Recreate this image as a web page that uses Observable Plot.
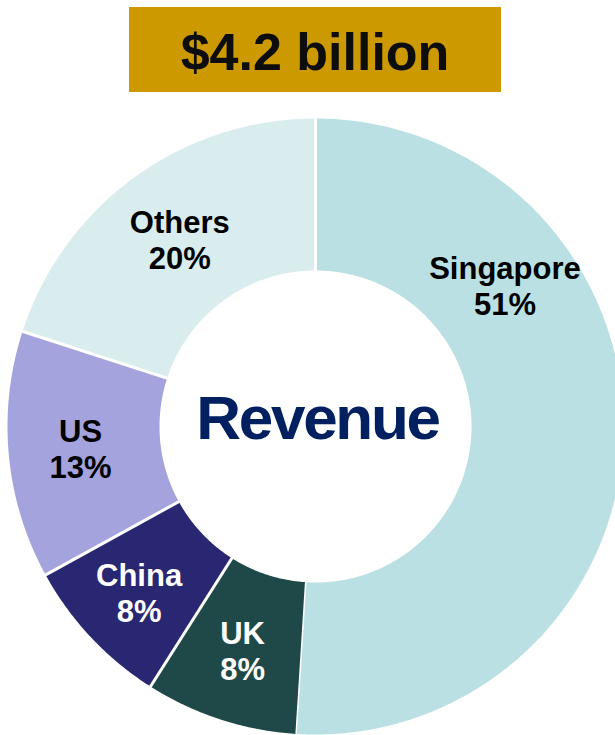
<!DOCTYPE html>
<html>
<head>
<meta charset="utf-8">
<script src="https://cdn.jsdelivr.net/npm/d3@7"></script>
<script src="https://cdn.jsdelivr.net/npm/@observablehq/plot@0.6"></script>
<style>
  html, body { margin: 0; padding: 0; background: #fff; overflow: hidden; }
  body { width: 615px; height: 735px; position: relative; font-family: "Liberation Sans", Arial, sans-serif; }
  #title {
    position: absolute; left: 129px; top: 7px; width: 372px; height: 85px;
    background: #CC9900; color: #0D0D0D; font-weight: bold; font-size: 52px;
    line-height: 90px; text-align: center; white-space: nowrap;
  }
  #chart { position: absolute; left: 0; top: 100px; }
</style>
</head>
<body>
<div id="title"></div>
<div id="chart"></div>
<script>
// ---- data ----
const categories = ["Singapore", "UK", "China", "US", "Others"];
const shares = [51, 8, 8, 13, 20];
const sliceColors = ["#BAE0E3", "#1F4848", "#292672", "#A4A3DD", "#D9EDEE"];
const labelColors = ["#000000", "#FFFFFF", "#FFFFFF", "#000000", "#000000"];
const titleText = "$4.2 billion";
const centerText = "Revenue";

// ---- layout ----
const R_OUT = 308, R_IN = 156, R_LABEL = 236;
const labelAngleOverride = { Singapore: 53.4 }; // degrees clockwise from top
const labelRadiusOverride = { Others: 231, China: 242 };
const separatorWidth = { Singapore: 3, UK: 1.5, China: 3, US: 3, Others: 3 }; // at start of slice

document.getElementById("title").textContent = titleText;

const total = d3.sum(shares);
let acc = 0;
const slices = categories.map((name, i) => {
  const a0 = acc / total * 2 * Math.PI;
  acc += shares[i];
  const a1 = acc / total * 2 * Math.PI;
  return { name, share: shares[i], a0, a1, i };
});

const toXY = (r, a) => ({ x: r * Math.sin(a), y: r * Math.cos(a) });

const polyPts = [];
for (const s of slices) {
  const n = Math.max(2, Math.ceil((s.a1 - s.a0) / (Math.PI / 360)));
  for (let k = 0; k <= n; k++) {
    const a = s.a0 + (s.a1 - s.a0) * k / n;
    polyPts.push({ name: s.name, ...toXY(R_OUT, a) });
  }
  for (let k = n; k >= 0; k--) {
    const a = s.a0 + (s.a1 - s.a0) * k / n;
    polyPts.push({ name: s.name, ...toXY(R_IN, a) });
  }
}

const seps = slices.map(s => {
  const p0 = toXY(R_IN - 2, s.a0), p1 = toXY(R_OUT + 2, s.a0);
  return { name: s.name, x1: p0.x, y1: p0.y, x2: p1.x, y2: p1.y, w: separatorWidth[s.name] };
});

const labels = slices.map(s => {
  const a = labelAngleOverride[s.name] != null ? labelAngleOverride[s.name] * Math.PI / 180 : (s.a0 + s.a1) / 2;
  const r = labelRadiusOverride[s.name] != null ? labelRadiusOverride[s.name] : R_LABEL;
  const p = toXY(r, a);
  return { ...p, text: `${s.name}\n${s.share}%`, color: labelColors[s.i] };
});

const chart = Plot.plot({
  width: 615,
  height: 635,
  margin: 0,
  x: { domain: [-315, 300], axis: null },
  y: { domain: [-309, 326], axis: null },
  color: { domain: categories, range: sliceColors },
  style: { fontFamily: "'Liberation Sans', Arial, sans-serif", background: "transparent" },
  marks: [
    Plot.line(polyPts, { x: "x", y: "y", z: "name", fill: "name", stroke: "none", clip: true }),
    Plot.link(seps, { x1: "x1", y1: "y1", x2: "x2", y2: "y2", stroke: "white", strokeWidth: "w", clip: true }),
    Plot.text(labels, {
      x: "x", y: "y", text: "text", fill: "color",
      fontSize: 31, fontWeight: "bold", lineHeight: 1.16, lineAnchor: "middle", textAnchor: "middle"
    }),
    Plot.text([centerText], {
      x: () => 0, y: () => 0, text: d => d, dx: 2, dy: -7,
      fill: "#002060", fontSize: 62, fontWeight: "bold", textAnchor: "middle", className: "center-label"
    })
  ]
});

chart.querySelectorAll(".center-label text").forEach(t => t.style.letterSpacing = "-2.3px");
document.getElementById("chart").appendChild(chart);
</script>
</body>
</html>
